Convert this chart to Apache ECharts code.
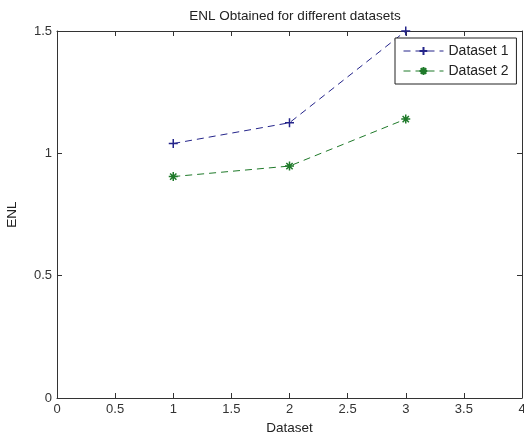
<!DOCTYPE html>
<html>
<head>
<meta charset="utf-8">
<script src="https://cdn.jsdelivr.net/npm/echarts@6/dist/echarts.min.js"></script>
<style>
  html, body { margin: 0; padding: 0; background: #fff; }
  #chart { width: 524px; height: 435px; }
</style>
</head>
<body>
<div id="chart"></div>
<script>
// 数据
const datasetX = [1, 2, 3];
const dataset1 = [1.04, 1.125, 1.5];
const dataset2 = [0.905, 0.948, 1.14];
const seriesNames = ['Dataset 1', 'Dataset 2'];

const PLUS = 'path://M5,0L5,10M0,5L10,5';
const STAR = 'path://M5,0L5,10M0,5L10,5M1.5,1.5L8.5,8.5M8.5,1.5L1.5,8.5';
const FONT = 'Liberation Sans';

const pairs = ys => datasetX.map((x, i) => [x, ys[i]]);

// 生成一条虚线+标记的系列
function makeSeries(name, ys, color, symbol) {
  return {
    name: name,
    type: 'line',
    data: pairs(ys),
    symbol: symbol,
    symbolSize: 9,
    showSymbol: true,
    lineStyle: { color: color, width: 1, type: [7, 5] },
    itemStyle: { color: color, borderColor: color, borderWidth: 1.5 },
    emphasis: { disabled: true },
    animation: false
  };
}

const axisCommon = {
  type: 'value',
  axisLine: { show: true, onZero: false, lineStyle: { color: '#333', width: 1 } },
  axisTick: { show: true, inside: true, length: 5, lineStyle: { color: '#333' } },
  splitLine: { show: false }
};

const chart = echarts.init(document.getElementById('chart'));
chart.setOption({
  backgroundColor: '#fff',
  title: {
    text: 'ENL Obtained for different datasets',
    left: 290,
    textAlign: 'center',
    top: 4,
    textStyle: { fontFamily: FONT, fontSize: 13.5, fontWeight: 'normal', color: '#222' }
  },
  grid: { left: 57, right: 2, top: 31, bottom: 37, outerBoundsMode: 'none' },
  legend: {
    orient: 'vertical',
    left: 395,
    top: 38,
    padding: [6, 8, 6, 8],
    itemGap: 6,
    itemWidth: 40,
    itemHeight: 10,
    backgroundColor: '#fff',
    borderColor: '#222',
    borderWidth: 1,
    borderRadius: 0,
    lineStyle: { width: 1 },
    textStyle: { fontFamily: FONT, fontSize: 14, color: '#222' },
    data: seriesNames
  },
  xAxis: [
    Object.assign({}, axisCommon, {
      min: 0, max: 4, interval: 0.5,
      name: 'Dataset',
      nameLocation: 'middle',
      nameGap: 21,
      nameTextStyle: { fontFamily: FONT, fontSize: 13.5, color: '#222' },
      axisLabel: { fontFamily: FONT, fontSize: 13, color: '#333', margin: 5, showMaxLabel: true }
    }),
    Object.assign({}, axisCommon, {
      position: 'top', min: 0, max: 4, interval: 0.5,
      axisLabel: { show: false }
    })
  ],
  yAxis: [
    Object.assign({}, axisCommon, {
      min: 0, max: 1.5, interval: 0.5,
      name: 'ENL',
      nameLocation: 'middle',
      nameGap: 38,
      nameTextStyle: { fontFamily: FONT, fontSize: 13.5, color: '#222' },
      axisLabel: { fontFamily: FONT, fontSize: 13, color: '#333', margin: 5 }
    }),
    Object.assign({}, axisCommon, {
      position: 'right', min: 0, max: 1.5, interval: 0.5,
      axisLabel: { show: false }
    })
  ],
  series: [
    makeSeries(seriesNames[0], dataset1, '#24248a', PLUS),
    makeSeries(seriesNames[1], dataset2, '#1f7a2a', STAR)
  ]
});
</script>
</body>
</html>
